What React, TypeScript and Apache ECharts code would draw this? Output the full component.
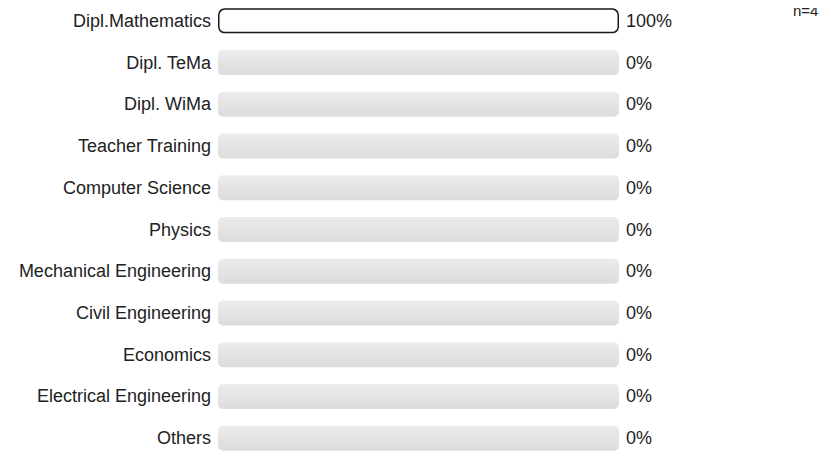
import React, { useEffect, useRef } from "react";
import * as echarts from "echarts";

const categories = [
  "Dipl.Mathematics",
  "Dipl. TeMa",
  "Dipl. WiMa",
  "Teacher Training",
  "Computer Science",
  "Physics",
  "Mechanical Engineering",
  "Civil Engineering",
  "Economics",
  "Electrical Engineering",
  "Others",
];
const percentValues = [100, 0, 0, 0, 0, 0, 0, 0, 0, 0, 0];
const sampleLabel = "n=4";

const FONT = "'Liberation Sans', Arial, Helvetica, sans-serif";

export default function App() {
  const ref = useRef<HTMLDivElement>(null);
  useEffect(() => {
    if (!ref.current) return;
    const chart = echarts.init(ref.current, undefined, { renderer: "svg" });
    chart.setOption({
      animation: false,
      textStyle: { fontFamily: FONT },
      grid: { left: 218, width: 401, top: -2, height: 469, containLabel: false },
      xAxis: {
        type: "value",
        min: 0,
        max: 100,
        show: false,
      },
      yAxis: [
        {
          type: "category",
          data: categories,
          inverse: true,
          axisLine: { show: false },
          axisTick: { show: false },
          axisLabel: { color: "#222", fontSize: 18, margin: 7, fontFamily: FONT },
        },
        {
          type: "category",
          data: percentValues.map((v) => v + "%"),
          inverse: true,
          position: "right",
          axisLine: { show: false },
          axisTick: { show: false },
          axisLabel: { color: "#222", fontSize: 18, margin: 7, fontFamily: FONT },
        },
      ],
      series: [
        {
          type: "bar",
          data: percentValues.map((v) => ({
            value: v,
            itemStyle: v > 0 ? {} : { borderWidth: 0, opacity: 0 },
          })),
          barWidth: 25,
          showBackground: true,
          backgroundStyle: {
            color: new echarts.graphic.LinearGradient(0, 0, 0, 1, [
              { offset: 0, color: "#ececec" },
              { offset: 1, color: "#dcdcdc" },
            ]),
            borderRadius: 5,
          },
          itemStyle: {
            color: "#ffffff",
            borderColor: "#1a1a1a",
            borderWidth: 1.5,
            borderRadius: 6,
          },
        },
      ],
      graphic: [
        {
          type: "text",
          left: 793,
          top: 3,
          style: { text: sampleLabel, fontSize: 15, fill: "#222", fontFamily: FONT },
        },
      ],
    });
    return () => chart.dispose();
  }, []);
  return <div ref={ref} style={{ width: 835, height: 459, margin: -8 }} />;
}
